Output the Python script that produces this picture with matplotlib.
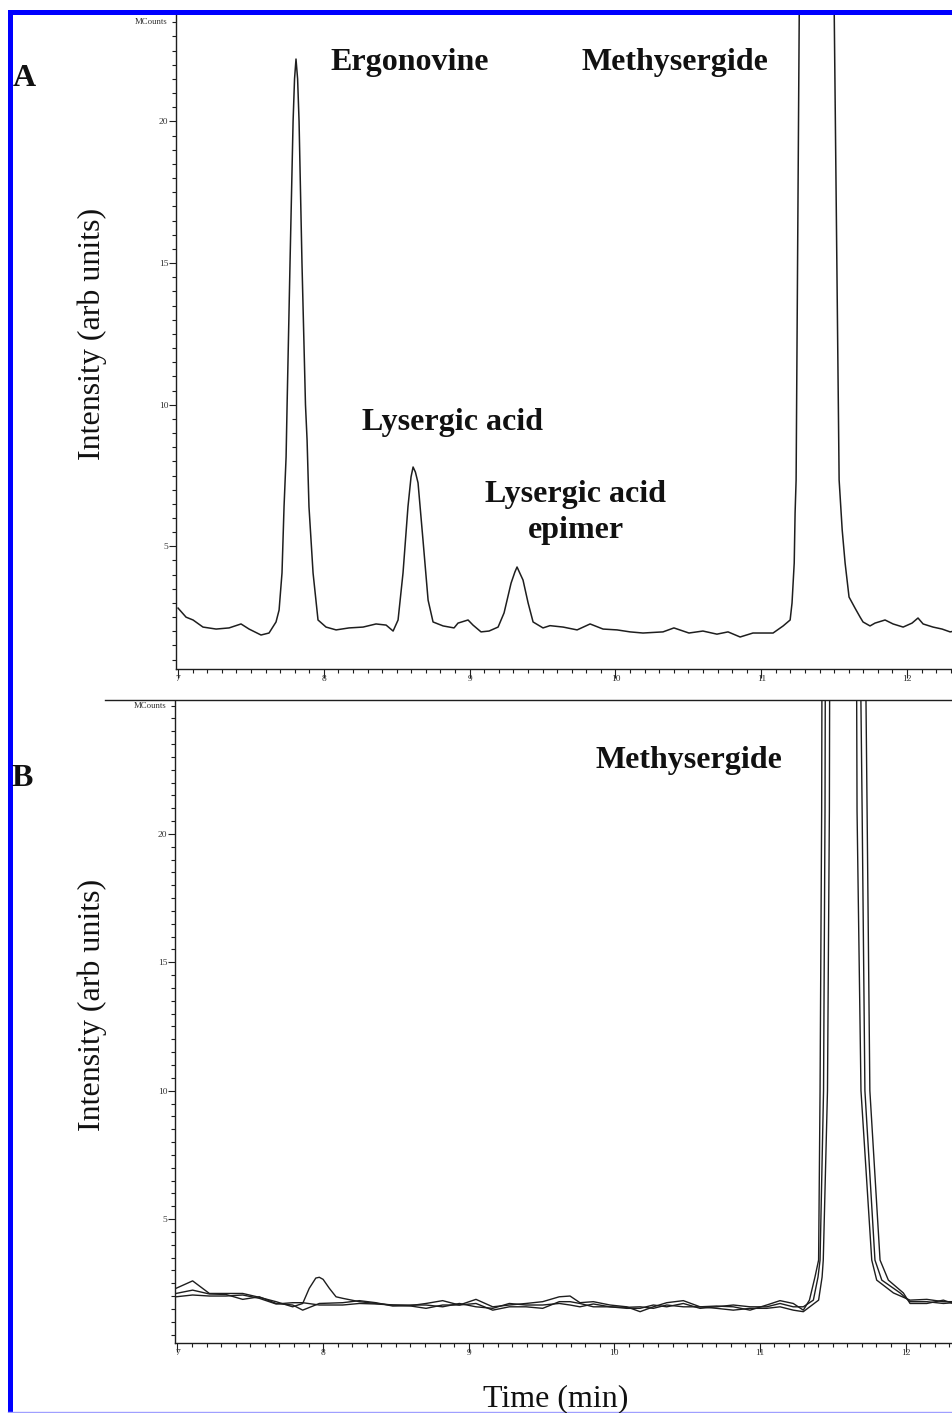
import matplotlib
matplotlib.use("Agg")
import matplotlib.pyplot as plt
from matplotlib.ticker import FixedLocator, MultipleLocator
from matplotlib.patches import Rectangle
from matplotlib.lines import Line2D

# ---------------- data ----------------
# Panel A: single chromatogram (time in min, intensity in MCounts)
a_time = [7.000, 7.055, 7.103, 7.171, 7.261, 7.350, 7.432, 7.487, 7.569, 7.624,
          7.672, 7.693, 7.713, 7.727, 7.741, 7.748, 7.768, 7.789, 7.799, 7.809,
          7.820, 7.830, 7.850, 7.874, 7.885, 7.898, 7.926, 7.960, 8.015, 8.084,
          8.173, 8.269, 8.358, 8.427, 8.475, 8.509, 8.543, 8.577, 8.598, 8.612,
          8.628, 8.646, 8.680, 8.715, 8.749, 8.818, 8.893, 8.920, 8.989, 9.023,
          9.078, 9.133, 9.195, 9.236, 9.284, 9.310, 9.325, 9.341, 9.366, 9.401,
          9.435, 9.503, 9.551, 9.641, 9.737, 9.826, 9.915, 10.011, 10.100, 10.189,
          10.326, 10.401, 10.504, 10.600, 10.696, 10.772, 10.855, 10.943, 11.081, 11.150,
          11.198, 11.211, 11.226, 11.232, 11.239, 11.262, 11.380, 11.498, 11.534, 11.555,
          11.575, 11.602, 11.643, 11.678, 11.698, 11.746, 11.780, 11.849, 11.904, 11.973,
          12.034, 12.075, 12.110, 12.178, 12.240, 12.295, 12.315]
a_intensity = [2.82, 2.50, 2.40, 2.15, 2.08, 2.12, 2.26, 2.08, 1.87, 1.94,
               2.33, 2.75, 4.06, 6.40, 8.15, 10.0, 15.0, 20.0, 21.5, 22.2,
               21.5, 20.0, 15.0, 10.0, 8.75, 6.40, 4.06, 2.40, 2.15, 2.05,
               2.12, 2.15, 2.26, 2.22, 2.01, 2.40, 4.06, 6.40, 7.45, 7.80,
               7.62, 7.24, 5.22, 3.10, 2.33, 2.19, 2.12, 2.29, 2.40, 2.22,
               1.98, 2.01, 2.15, 2.65, 3.70, 4.09, 4.27, 4.09, 3.81, 3.00,
               2.33, 2.12, 2.20, 2.15, 2.05, 2.26, 2.08, 2.05, 1.98, 1.94,
               1.98, 2.12, 1.94, 2.01, 1.90, 1.98, 1.80, 1.94, 1.94, 2.19,
               2.40, 3.00, 4.41, 6.18, 7.34, 25.0, 40.0, 25.0, 7.34, 5.58,
               4.41, 3.21, 2.82, 2.50, 2.33, 2.19, 2.29, 2.40, 2.26, 2.15,
               2.29, 2.47, 2.26, 2.15, 2.08, 1.98, 2.00]

# Panel B: three overlaid chromatograms
b1_time = [6.990, 7.104, 7.219, 7.333, 7.448, 7.562, 7.677, 7.791, 7.860, 7.905,
           7.950, 7.974, 8.000, 8.043, 8.089, 8.135, 8.249, 8.363, 8.478, 8.592,
           8.707, 8.821, 8.936, 9.050, 9.165, 9.279, 9.394, 9.508, 9.622, 9.696,
           9.764, 9.856, 9.970, 10.085, 10.177, 10.268, 10.360, 10.474, 10.589, 10.703,
           10.817, 10.932, 11.047, 11.138, 11.229, 11.298, 11.340, 11.378, 11.403, 11.413,
           11.424, 11.426, 11.545, 11.664, 11.667, 11.694, 11.768, 11.802, 11.917, 12.031,
           12.146, 12.260, 12.326]
b1_intensity = [2.30, 2.59, 2.10, 2.10, 2.10, 1.95, 1.78, 1.58, 1.71, 2.30,
                2.70, 2.73, 2.65, 2.30, 1.97, 1.91, 1.78, 1.71, 1.65, 1.62,
                1.71, 1.82, 1.65, 1.87, 1.58, 1.65, 1.71, 1.78, 1.97, 2.00,
                1.74, 1.78, 1.65, 1.58, 1.39, 1.58, 1.74, 1.82, 1.58, 1.61,
                1.58, 1.45, 1.65, 1.82, 1.71, 1.45, 1.84, 2.74, 3.40, 10.0,
                20.9, 26.0, 45.0, 26.0, 20.9, 10.0, 3.40, 2.62, 2.12, 1.84,
                1.87, 1.78, 1.78]

b2_time = [6.990, 7.104, 7.219, 7.333, 7.448, 7.562, 7.677, 7.791, 7.860, 7.974,
           8.135, 8.249, 8.363, 8.478, 8.592, 8.707, 8.821, 8.936, 9.050, 9.165,
           9.279, 9.394, 9.508, 9.622, 9.696, 9.764, 9.856, 9.970, 10.085, 10.177,
           10.268, 10.360, 10.474, 10.589, 10.703, 10.817, 10.932, 11.047, 11.138, 11.229,
           11.298, 11.367, 11.399, 11.413, 11.437, 11.447, 11.449, 11.570, 11.692, 11.702,
           11.721, 11.790, 11.837, 11.963, 12.031, 12.146, 12.260, 12.326]
b2_intensity = [2.10, 2.23, 2.08, 2.06, 1.87, 1.97, 1.71, 1.65, 1.45, 1.71,
                1.74, 1.82, 1.74, 1.61, 1.62, 1.52, 1.65, 1.65, 1.71, 1.45,
                1.58, 1.58, 1.52, 1.78, 1.78, 1.71, 1.58, 1.58, 1.52, 1.52,
                1.65, 1.58, 1.71, 1.52, 1.58, 1.65, 1.58, 1.58, 1.71, 1.58,
                1.58, 1.84, 2.74, 3.40, 10.0, 20.9, 26.0, 45.0, 26.0, 20.9,
                10.0, 3.40, 2.62, 2.12, 1.78, 1.78, 1.71, 1.74]

b3_time = [6.990, 7.104, 7.219, 7.333, 7.448, 7.562, 7.677, 7.791, 7.860, 7.974,
           8.135, 8.249, 8.363, 8.478, 8.592, 8.707, 8.821, 8.936, 9.050, 9.165,
           9.279, 9.394, 9.508, 9.622, 9.696, 9.764, 9.856, 9.970, 10.085, 10.177,
           10.268, 10.360, 10.474, 10.589, 10.703, 10.817, 10.932, 11.047, 11.138, 11.229,
           11.298, 11.403, 11.427, 11.435, 11.464, 11.477, 11.479, 11.603, 11.727, 11.736,
           11.755, 11.825, 11.882, 11.985, 12.031, 12.146, 12.260, 12.326]
b3_intensity = [1.97, 2.04, 2.00, 2.00, 2.04, 1.91, 1.69, 1.74, 1.74, 1.65,
                1.65, 1.71, 1.69, 1.65, 1.65, 1.65, 1.58, 1.71, 1.58, 1.52,
                1.71, 1.65, 1.65, 1.71, 1.65, 1.58, 1.69, 1.58, 1.56, 1.58,
                1.52, 1.65, 1.58, 1.58, 1.52, 1.45, 1.52, 1.52, 1.58, 1.45,
                1.39, 1.84, 2.74, 3.40, 10.0, 20.9, 26.0, 45.0, 26.0, 20.9,
                10.0, 3.40, 2.62, 2.12, 1.71, 1.71, 1.84, 1.71]

x_major = [7, 8, 9, 10, 11, 12]
y_major = [5, 10, 15, 20]
y_major_labels = ["5", "10", "15", "20"]
a_labels = ["Ergonovine", "Methysergide", "Lysergic acid", "Lysergic acid\nepimer"]
b_labels = ["Methysergide"]
ylabel = "Intensity (arb units)"
xlabel = "Time (min)"

# ---------------- figure ----------------
W, H = 953, 1413
plt.rcParams['font.family'] = ['Liberation Serif', 'DejaVu Serif']
fig = plt.figure(figsize=(W / 100, H / 100), dpi=100)
fig.patch.set_facecolor('white')


def fx(x):
    return x / W


def fy(y):
    return 1 - y / H


ink = '#1e1e1e'
tick_col = '#333333'

axA = fig.add_axes([fx(176), fy(669), fx(953 - 176), (669 - 14) / H])
axB = fig.add_axes([fx(175), fy(1343), fx(953 - 175), (1343 - 701) / H])

axA.plot(a_time, a_intensity, color=ink, lw=1.1, solid_joinstyle='round')
for t, v in [(b1_time, b1_intensity), (b2_time, b2_intensity), (b3_time, b3_intensity)]:
    axB.plot(t, v, color=ink, lw=1.0, solid_joinstyle='round')

axA.set_xlim(6.986, 12.315)
axA.set_ylim(0.67, 23.79)
axB.set_xlim(6.983, 12.326)
axB.set_ylim(0.17, 25.18)

for ax, mc in [(axA, 23.5), (axB, 25.0)]:
    ax.set_facecolor('none')
    for s in ['top', 'right']:
        ax.spines[s].set_visible(False)
    for s in ['left', 'bottom']:
        ax.spines[s].set_color(ink)
        ax.spines[s].set_linewidth(1.0)
    ax.xaxis.set_major_locator(FixedLocator(x_major))
    ax.xaxis.set_minor_locator(MultipleLocator(0.1))
    ax.yaxis.set_major_locator(FixedLocator(y_major))
    ax.yaxis.set_minor_locator(MultipleLocator(0.5))
    ax.set_xticklabels([str(v) for v in x_major])
    ax.set_yticklabels(y_major_labels)
    ax.tick_params(axis='x', which='major', direction='out', length=6.5, width=0.8,
                   color=ink, labelsize=6.8, labelcolor=tick_col, pad=-2.5)
    ax.tick_params(axis='x', which='minor', direction='out', length=3, width=0.8, color=ink)
    ax.tick_params(axis='y', which='major', direction='out', length=5, width=0.8,
                   color=ink, labelsize=6.8, labelcolor=tick_col, pad=0.5)
    ax.tick_params(axis='y', which='minor', direction='out', length=3, width=0.8, color=ink)
    ax.text(-9.0 / (953 - 176), mc, "MCounts", transform=ax.get_yaxis_transform(),
            ha='right', va='center', fontsize=6.3, color=tick_col)

# separator line above panel B
fig.add_artist(Line2D([fx(105), fx(953)], [fy(700), fy(700)], color=ink, lw=1.0))

# blue frame
fig.add_artist(Rectangle((fx(8), fy(15)), fx(953 - 8), 5 / H, transform=fig.transFigure,
                         color='#0000ff', lw=0))
fig.add_artist(Rectangle((fx(8.3), 0), fx(5), fy(10), transform=fig.transFigure,
                         color='#0000ff', lw=0))
fig.add_artist(Line2D([fx(8), fx(953)], [fy(1411.5), fy(1411.5)], color='#9f9fff', lw=1.0))

bold = dict(fontsize=23, fontweight='bold', color='#111111', ha='center', va='baseline')
fig.text(fx(24), fy(86), "A", **bold)
fig.text(fx(22), fy(786), "B", **bold)
fig.text(fx(409.5), fy(70), a_labels[0], **bold)
fig.text(fx(675), fy(70), a_labels[1], **bold)
fig.text(fx(453), fy(430), a_labels[2], **bold)
fig.text(fx(575.5), fy(502), "Lysergic acid", **bold)
fig.text(fx(575.5), fy(538), "epimer", **bold)
fig.text(fx(689), fy(768), b_labels[0], **bold)

lab = dict(fontsize=23, color='#111111')
fig.text(fx(92), fy(334), ylabel, rotation=90, ha='center', va='center', **lab)
fig.text(fx(92), fy(1005), ylabel, rotation=90, ha='center', va='center', **lab)
fig.text(fx(556), fy(1406), xlabel, ha='center', va='baseline', **lab)

fig.savefig("out.png", dpi=100, facecolor='white')
